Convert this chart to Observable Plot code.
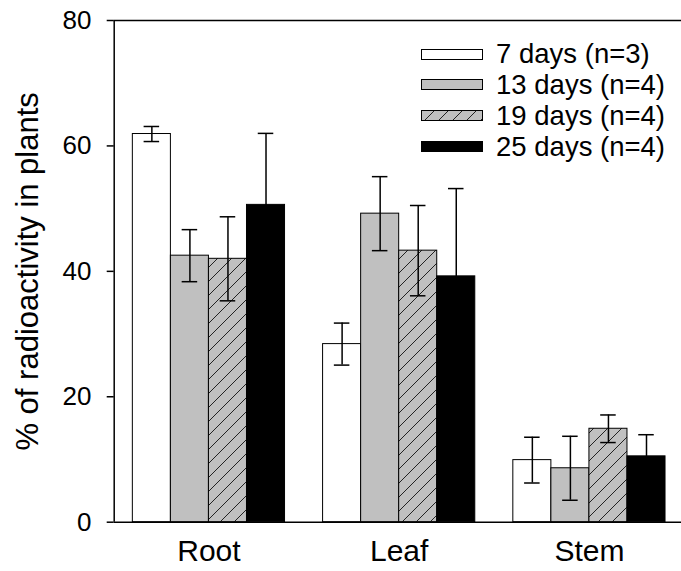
<!DOCTYPE html>
<html><head><meta charset="utf-8">
<script src="https://cdn.jsdelivr.net/npm/d3@7"></script>
<script src="https://cdn.jsdelivr.net/npm/@observablehq/plot@0.6"></script>
<style>
body{margin:0;background:#fff;font-family:"Liberation Sans",Arial,sans-serif;}
#wrap{position:relative;width:681px;height:571px;}
#legend{position:absolute;left:420.7px;top:38.8px;}
.row{display:flex;align-items:center;height:30.8px;font-size:27.5px;color:#000;line-height:1;}
.row svg{margin-right:13.4px;display:block;}
</style></head><body>
<svg width="0" height="0" style="position:absolute">
 <defs><pattern id="hatch" patternUnits="userSpaceOnUse" width="14" height="14">
  <rect width="14" height="14" fill="#c0c0c0"/>
  <path d="M0,14L14,0M-2,2L2,-2M12,16L16,12" stroke="#222" stroke-width="1"/>
 </pattern></defs></svg>
<div id="wrap"><div id="legend"></div></div>
<script>
const categories = ["Root", "Leaf", "Stem"];
const seriesNames = ["7 days (n=3)", "13 days (n=4)", "19 days (n=4)", "25 days (n=4)"];
const day7  = [61.9, 28.4, 9.9];
const day13 = [42.5, 49.2, 8.6];
const day19 = [42.0, 43.3, 14.9];
const day25 = [50.6, 39.2, 10.5];
const err7  = [1.2, 3.35, 3.65];
const err13 = [4.15, 5.9, 5.1];
const err19 = [6.7, 7.2, 2.2];
const err25 = [11.4, 14.0, 3.45];
const yTicks = [0, 20, 40, 60, 80];
const yLabel = "% of radioactivity in plants";
const fills = ["white", "#c0c0c0", "url(#hatch)", "black"];

const means = [day7, day13, day19, day25];
const errs = [err7, err13, err19, err25];
const slotsPerGroup = seriesNames.length + 1;
const rows = [];
categories.forEach((c, g) => seriesNames.forEach((s, j) => {
  const slot = g * slotsPerGroup + j;
  const m = means[j][g], e = errs[j][g];
  rows.push({organ: c, series: s, x1: slot, x2: slot + 1, xc: slot + 0.5, mean: m, lo: m - e, hi: m + e});
}));
const groupCenters = categories.map((c, g) => g * slotsPerGroup + seriesNames.length / 2);
const xDomain = [-0.49, 14.42];
const cap = 0.204;

const chart = Plot.plot({
  width: 681, height: 571,
  marginTop: 20, marginBottom: 49.3, marginLeft: 113.7, marginRight: 0,
  x: {type: "linear", domain: xDomain, axis: null},
  y: {domain: [0, 80], axis: null},
  color: {domain: seriesNames, range: fills},
  style: {fontFamily: "'Liberation Sans', Arial, sans-serif", background: "white", color: "black"},
  marks: [
    Plot.rectY(rows, {x1: "x1", x2: "x2", y: "mean", fill: "series", stroke: "black", strokeWidth: 1}),
    Plot.ruleX(rows, {x: "xc", y1: "lo", y2: "hi", stroke: "black", strokeWidth: 1.5}),
    Plot.ruleY(rows, {y: "hi", x1: d => d.xc - cap, x2: d => d.xc + cap, stroke: "black", strokeWidth: 1.5}),
    Plot.ruleY(rows, {y: "lo", x1: d => d.xc - cap, x2: d => d.xc + cap, stroke: "black", strokeWidth: 1.5}),
    Plot.ruleY([0, 80], {stroke: "black", strokeWidth: 1.5}),
    Plot.ruleX([xDomain[0]], {stroke: "black", strokeWidth: 1.5}),
    Plot.axisY({ticks: yTicks, tickSize: 7, tickPadding: 15.7, fontSize: 26, label: null, strokeWidth: 1.5}),
    Plot.axisX({ticks: groupCenters, tickFormat: d => categories[groupCenters.indexOf(d)], tickSize: 0, tickPadding: 17, fontSize: 30, label: null}),
    Plot.text([yLabel], {text: d => d, frameAnchor: "left", textAnchor: "middle", lineAnchor: "middle", rotate: -90, dx: -86.2, fontSize: 31})
  ]
});
document.getElementById("wrap").prepend(chart);

const legend = document.getElementById("legend");
seriesNames.forEach((s, i) => {
  const row = document.createElement("div");
  row.className = "row";
  row.innerHTML = `<svg width="62" height="11"><rect x="0.5" y="0.5" width="61" height="10" fill="${fills[i]}" stroke="black" stroke-width="1"/></svg><span>${s}</span>`;
  legend.appendChild(row);
});
</script>
</body></html>
